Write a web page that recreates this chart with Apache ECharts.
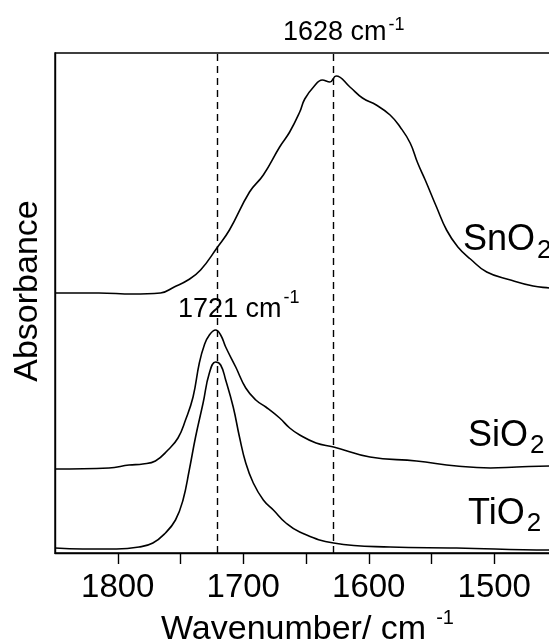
<!DOCTYPE html>
<html>
<head>
<meta charset="utf-8">
<script src="https://cdn.jsdelivr.net/npm/echarts@6/dist/echarts.min.js"></script>
<style>
  html, body { margin: 0; padding: 0; background: #fff; overflow: hidden; }
  /* the plot runs a few pixels past the right edge of the window, as in the original figure */
  #main { width: 557px; height: 639px; }
</style>
</head>
<body>
<div id="main"></div>
<script>
var FONT = '"Liberation Sans", Arial, sans-serif';

// wavenumber (cm-1) and absorbance (a.u., traces offset)
var snWn  = [1850, 1815, 1788, 1766, 1755, 1744, 1734, 1721, 1711, 1695, 1684, 1671, 1663, 1655, 1651, 1644, 1637, 1631, 1626, 1615, 1605, 1594, 1583, 1575, 1567, 1561, 1555, 1546, 1538, 1529, 1519, 1506, 1487, 1469, 1456, 1450];
var snAbs = [2.60, 2.60, 2.59, 2.60, 2.66, 2.73, 2.83, 3.05, 3.23, 3.61, 3.78, 4.06, 4.21, 4.41, 4.54, 4.66, 4.73, 4.71, 4.77, 4.66, 4.55, 4.48, 4.38, 4.26, 4.10, 3.90, 3.73, 3.46, 3.23, 3.06, 2.94, 2.81, 2.73, 2.67, 2.65, 2.64];

var siWn  = [1850, 1807, 1791, 1780, 1770, 1760, 1752, 1746, 1740, 1735, 1731, 1727, 1722, 1718, 1714, 1706, 1698, 1690, 1682, 1671, 1663, 1655, 1642, 1628, 1599, 1562, 1530, 1503, 1482, 1456, 1450];
var siAbs = [0.84, 0.85, 0.88, 0.89, 0.92, 1.03, 1.15, 1.33, 1.56, 1.90, 2.08, 2.18, 2.23, 2.18, 2.06, 1.86, 1.65, 1.53, 1.46, 1.35, 1.25, 1.18, 1.10, 1.06, 0.96, 0.92, 0.87, 0.85, 0.86, 0.87, 0.87];

var tiWn  = [1850, 1828, 1801, 1783, 1772, 1762, 1754, 1748, 1743, 1738, 1732, 1727, 1722, 1718, 1714, 1708, 1703, 1698, 1692, 1684, 1676, 1666, 1655, 1628, 1583, 1530, 1456, 1450];
var tiAbs = [0.05, 0.04, 0.04, 0.06, 0.10, 0.20, 0.33, 0.53, 0.83, 1.16, 1.50, 1.80, 1.91, 1.88, 1.73, 1.46, 1.16, 0.90, 0.70, 0.53, 0.43, 0.30, 0.21, 0.10, 0.06, 0.05, 0.03, 0.03];

var peakPositions = [1721, 1628];
var tickLabels = [1800, 1700, 1600, 1500];

function pairs(xs, ys) {
  return xs.map(function (x, i) { return [x, ys[i]]; });
}

// text width, used to put sub/superscripts right after the text
var ctx = document.createElement('canvas').getContext('2d');
function textWidth(s, size) {
  ctx.font = size + 'px ' + FONT;
  return ctx.measureText(s).width;
}

function scripted(main, script, x, cy, size, scriptSize, dy, gap) {
  var w = textWidth(main, size);
  return [
    { type: 'text', x: x, y: cy,
      style: { text: main, font: size + 'px ' + FONT, fill: '#000', verticalAlign: 'middle' } },
    { type: 'text', x: x + w + gap, y: cy + dy,
      style: { text: script, font: scriptSize + 'px ' + FONT, fill: '#000', verticalAlign: 'middle' } }
  ];
}

var graphics = []
  .concat(scripted('SnO', '2', 463, 240, 36, 26, 11, 2))
  .concat(scripted('SiO', '2', 468, 436, 36, 26, 10, 2))
  .concat(scripted('TiO', '2', 468, 514, 36, 26, 10, 2))
  .concat(scripted(peakPositions[1] + ' cm', '-1', 283, 33, 27, 18, -8, 2))
  .concat(scripted(peakPositions[0] + ' cm', '-1', 178, 310, 27, 18, -12, 2))
  .concat(scripted('Wavenumber/ cm', '-1', 161, 630, 34, 20, -12, 10));

graphics.push({
  type: 'text', x: 28, y: 291, rotation: Math.PI / 2,
  style: { text: 'Absorbance', font: '34px ' + FONT, fill: '#000', align: 'center', verticalAlign: 'middle' }
});

function lineSeries(name, xs, ys) {
  return {
    name: name,
    type: 'line',
    data: pairs(xs, ys),
    showSymbol: false,
    smooth: 0.45,
    lineStyle: { color: '#000', width: 1.6 },
    silent: true
  };
}

var chart = echarts.init(document.getElementById('main'));

var series = [
  lineSeries('SnO2', snWn, snAbs),
  lineSeries('SiO2', siWn, siAbs),
  lineSeries('TiO2', tiWn, tiAbs)
];

// dashed peak markers
series[0].markLine = {
  silent: true,
  symbol: 'none',
  label: { show: false },
  lineStyle: { color: '#000', width: 1.4, type: [7, 5] },
  data: peakPositions.map(function (p) { return { xAxis: p }; })
};

chart.setOption({
  animation: false,
  backgroundColor: '#fff',
  grid: {
    left: 55, top: 53, right: 0, bottom: 86,
    show: true, borderColor: '#000', borderWidth: 1.4
  },
  xAxis: {
    type: 'value',
    inverse: true,
    min: 1450,
    max: 1850,
    interval: 50,
    axisLine: { lineStyle: { color: '#000', width: 1.4 } },
    axisTick: { inside: false, length: 11, lineStyle: { color: '#000', width: 1.4 } },
    axisLabel: {
      color: '#000',
      fontSize: 33,
      fontFamily: FONT,
      margin: 18,
      showMinLabel: false,
      showMaxLabel: false,
      formatter: function (v) { return tickLabels.indexOf(v) >= 0 ? String(v) : ''; }
    },
    splitLine: { show: false }
  },
  yAxis: {
    type: 'value',
    min: 0,
    max: 5,
    axisLine: { show: true, lineStyle: { color: '#000', width: 1.4 } },
    axisTick: { show: false },
    axisLabel: { show: false },
    splitLine: { show: false }
  },
  series: series,
  graphic: graphics
});
</script>
</body>
</html>
